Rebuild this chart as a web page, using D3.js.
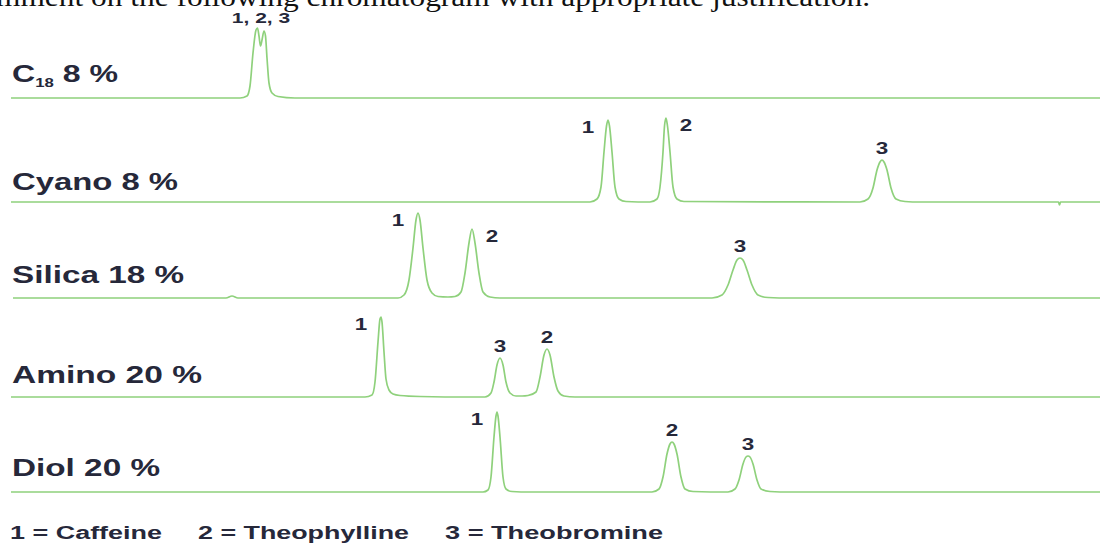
<!DOCTYPE html>
<html>
<head>
<meta charset="utf-8">
<script src="https://cdn.jsdelivr.net/npm/d3@7"></script>
<style>
  html, body { margin: 0; padding: 0; background: #fff; }
  svg { display: block; }
</style>
</head>
<body>
<svg id="chart" width="1100" height="544"></svg>
<script>
// ---------------- DATA ----------------
// Column / mobile-phase labels (top to bottom)
const traceNames = ["C18 8 %", "Cyano 8 %", "Silica 18 %", "Amino 20 %", "Diol 20 %"];

// Chromatogram traces: [retention time (s), detector signal (mAU)]
const c18Trace = [
  [11,0],[240,0],[247,2],[250,12],[253,45],[256,68],[257.5,70],[259,62],[260.5,52],
  [262,58],[264,67],[265.5,62],[267,40],[269,15],[272,5],[278,1.5],[295,0],[1100,0]
];
const cyanoTrace = [
  [11,0],[590,0],[597,3],[601,15],[604,50],[606.5,76],[608,82],[609.5,76],[612,50],[615,15],
  [619,3],[626,0.5],[650,0],[657,3],[660,15],[663,50],[664.5,76],[666,84],[667.5,76],[670,50],
  [673,15],[677,3],[684,0.5],[860,0],[868,3],[873,14],[877,32],[880,40],[882,42],[884,40],
  [887,32],[891,14],[896,3],[905,0.5],[920,0],[1058.5,0],[1059.5,-3],[1060.5,0],[1100,0]
];
const silicaTrace = [
  [13,0],[226,0],[232,2],[238,0],[398,0],[404,3],[409,18],[413,50],[416,78],[418,85],[420,78],
  [423,50],[427,18],[432,5],[438,1.5],[448,1],[455,1.5],[461,6],[465,25],[469,55],[472,69],
  [475,55],[479,25],[483,6],[490,1],[500,0],[712,0],[722,3],[728,13],[733,28],[737,38],
  [740,40],[743,38],[747,28],[752,13],[758,3],[768,0.5],[790,0],[1100,0]
];
const aminoTrace = [
  [11,0],[365,0],[372,2],[375,15],[378,55],[380,78],[381,80],[382,75],[384,45],[386,18],
  [389,7],[393,3],[400,1.5],[420,0.5],[470,0],[485,0],[491,4],[494,15],[497,32],[500,39],
  [503,32],[506,15],[510,4],[516,1],[522,1],[528,1.5],[536,5],[540,20],[544,42],[547,48],
  [550,42],[554,20],[558,6],[564,1],[575,0],[1100,0]
];
const diolTrace = [
  [11,0],[483,0],[488,2],[491,15],[494,55],[496,76],[497,80],[498,76],[500,55],[503,15],
  [506,3],[512,0.5],[530,0],[652,0],[659,3],[663,15],[667,38],[670,48],[672,50],[674,48],
  [677,38],[681,15],[685,3],[693,0.5],[728,0],[735,3],[739,12],[743,28],[746,35],[748,36],
  [750,35],[753,28],[757,12],[761,3],[770,0.5],[790,0],[1100,0]
];
const traces = [c18Trace, cyanoTrace, silicaTrace, aminoTrace, diolTrace];

// Peak annotations: trace index, label text, retention time, peak signal, placement
const peakTrace    = [0, 1, 1, 1, 2, 2, 2, 3, 3, 3, 4, 4, 4];
const peakText     = ["1, 2, 3", "1", "2", "3", "1", "2", "3", "1", "3", "2", "1", "2", "3"];
const peakTime     = [261, 608, 666, 882, 418, 472, 740, 381, 500, 547, 497, 672, 748];
const peakSignal   = [70, 82, 84, 42, 85, 69, 40, 80, 39, 48, 80, 50, 36];
const peakPlace    = ["above","left","right","above","left","right","above","left","above","above","left","above","above"];

// Legend entries
const legendItems = ["1 = Caffeine", "2 = Theophylline", "3 = Theobromine"];

// Caption text (cropped at the top of the picture)
const captionText = "mment on the following chromatogram with appropriate justification.";

// ---------------- DRAW ----------------
const svg = d3.select("#chart");
const W = 1100, H = 544;
const green = "#8fd17c";
const ink = "#26283a";

const x = d3.scaleLinear().domain([0, 1100]).range([0, W]);
const baseline = d3.scaleOrdinal().domain(traceNames).range([98, 202, 298, 397, 492]);
const sig = d3.scaleLinear().domain([0, 100]).range([0, 100]);

// caption
svg.append("text")
  .attr("x", -4).attr("y", 6)
  .attr("font-family", "Liberation Serif, Times New Roman, serif")
  .attr("font-size", 27)
  .attr("fill", "#111")
  .attr("textLength", 874)
  .attr("lengthAdjust", "spacingAndGlyphs")
  .text(captionText);

// traces
traceNames.forEach((name, i) => {
  const line = d3.line()
    .x(d => x(d[0]))
    .y(d => baseline(name) - sig(d[1]))
    .curve(d3.curveMonotoneX);
  svg.append("path")
    .datum(traces[i])
    .attr("d", line)
    .attr("fill", "none")
    .attr("stroke", green)
    .attr("stroke-width", 1.7)
    .attr("stroke-linejoin", "round");
});

// trace labels
const labelWidths = [106, 166, 172, 190, 148];
const labelOffsets = [16, 12, 15, 14, 16];
const labelFont = "Liberation Sans, Arial, Helvetica, sans-serif";
traceNames.forEach((name, i) => {
  const t = svg.append("text")
    .attr("x", 12)
    .attr("y", baseline(name) - labelOffsets[i])
    .attr("font-family", labelFont)
    .attr("font-weight", "bold")
    .attr("font-size", 23)
    .attr("fill", ink)
    .attr("textLength", labelWidths[i])
    .attr("lengthAdjust", "spacingAndGlyphs");
  if (name.startsWith("C18")) {
    t.append("tspan").text("C");
    t.append("tspan").attr("font-size", 12).attr("dy", 5).text("18");
    t.append("tspan").attr("dy", -5).text(" 8 %");
  } else {
    t.text(name);
  }
});

// peak labels
const placeDx = { left: -20, right: 20, above: 0 };
const placeDy = { left: 13, right: 13, above: -6 };
peakText.forEach((txt, k) => {
  const name = traceNames[peakTrace[k]];
  const px = x(peakTime[k]) + placeDx[peakPlace[k]];
  const py = baseline(name) - sig(peakSignal[k]) + placeDy[peakPlace[k]] + (k === 0 ? 1 : 0);
  svg.append("text")
    .attr("transform", `translate(${px},${py}) scale(1.4,1)`)
    .attr("text-anchor", "middle")
    .attr("font-family", labelFont)
    .attr("font-weight", "bold")
    .attr("font-size", k === 0 ? 15 : 16)
    .attr("fill", ink)
    .text(txt);
});

// legend
const legendX = [10, 198, 445];
const legendW = [152, 211, 218];
legendItems.forEach((txt, k) => {
  svg.append("text")
    .attr("x", legendX[k]).attr("y", 539)
    .attr("font-family", labelFont)
    .attr("font-weight", "bold")
    .attr("font-size", 18)
    .attr("fill", ink)
    .attr("textLength", legendW[k])
    .attr("lengthAdjust", "spacingAndGlyphs")
    .text(txt);
});
</script>
</body>
</html>
